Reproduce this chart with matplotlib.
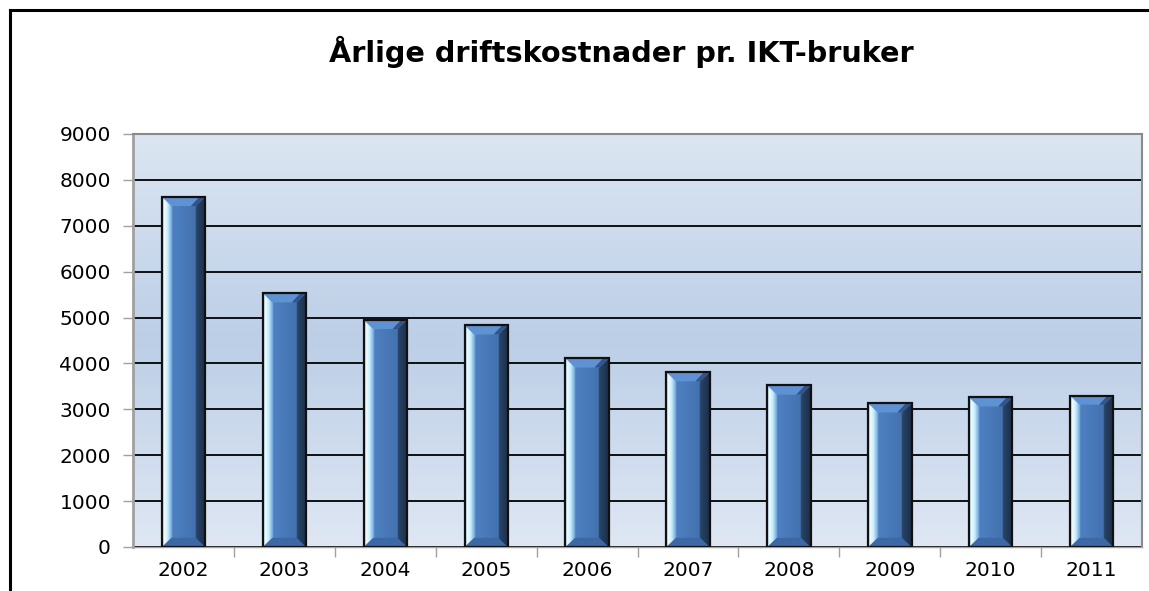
import matplotlib
matplotlib.use('Agg')
import matplotlib.pyplot as plt
import numpy as np
from matplotlib.colors import LinearSegmentedColormap
from matplotlib.patches import Rectangle, Polygon
from matplotlib.lines import Line2D

years = ['2002', '2003', '2004', '2005', '2006', '2007', '2008', '2009', '2010', '2011']
costs = [7630, 5530, 4950, 4830, 4110, 3810, 3520, 3130, 3260, 3300]
title = 'Årlige driftskostnader pr. IKT-bruker'

plt.rcParams['font.family'] = ['DejaVu Sans']

fig = plt.figure(figsize=(11.49, 5.91), dpi=100)
ax = fig.add_axes([0.1158, 0.0745, 0.8782, 0.6988])

# plot-area background: light at top and bottom, a bit darker in the middle
bg = LinearSegmentedColormap.from_list('bg', ['#dfe7f3', '#bccfe7', '#dce6f2'])
ax.imshow(np.linspace(0, 1, 256).reshape(-1, 1), cmap=bg, aspect='auto',
          extent=[0, 1, 0, 1], transform=ax.transAxes, origin='lower', zorder=0)

# horizontal shading of the bars (light left edge, dark right edge)
barcm = LinearSegmentedColormap.from_list('bar', [
    (0.0, '#86bde6'), (0.05, '#f2fdff'), (0.13, '#c6ecfb'), (0.22, '#74a8dc'),
    (0.24, '#4e80c1'), (0.76, '#4472b0'), (0.78, '#294468'), (1.0, '#1c2d47')])
grad = np.linspace(0, 1, 256).reshape(1, -1)

w = 0.43
bw = 0.095
bh = 200
for i, v in enumerate(costs):
    x0, x1 = i - w / 2, i + w / 2
    ax.imshow(grad, cmap=barcm, aspect='auto', extent=[x0, x1, 0, v], zorder=3)
    # top bevel
    ax.add_patch(Polygon([(x0, v), (x1, v), (x1 - bw, v - bh), (x0 + bw, v - bh)],
                         closed=True, fc='#5e92d2', ec='none', zorder=4))
    ax.add_patch(Polygon([(x1 - bw * 1.5, v - bh), (x1 - bw, v - bh), (x1, v), (x1 - bw * 0.6, v)],
                         closed=True, fc='#33548a', ec='none', zorder=4))
    # bottom bevel
    ax.add_patch(Polygon([(x0, 0), (x1, 0), (x1 - bw, bh), (x0 + bw, bh)],
                         closed=True, fc='#3c69a5', ec='none', zorder=4))
    ax.add_patch(Rectangle((x0, 0), w, v, fill=False, ec='#111111', lw=1.6, zorder=5))

ax.set_xlim(-0.5, len(years) - 0.5)
ax.set_ylim(0, 9000)
ax.set_yticks(np.arange(0, 9001, 1000))
ax.set_xticks(range(len(years)))
ax.set_xticklabels(years)
ax.set_xticks(np.arange(0.5, len(years) - 0.5, 1), minor=True)

ax.grid(axis='y', color='black', lw=1.3, zorder=1)
ax.set_axisbelow(True)

ax.tick_params(axis='y', length=7, width=1, color='#a0a0a0', labelsize=14.5, pad=9)
ax.tick_params(axis='x', which='major', length=0, labelsize=14.5, pad=10)
ax.tick_params(axis='x', which='minor', length=7, width=1, color='#a0a0a0')

for side in ['top', 'right']:
    ax.spines[side].set_color('#8a8a8a')
    ax.spines[side].set_linewidth(1.5)
ax.spines['left'].set_color('#a0a0a0')
ax.spines['left'].set_linewidth(2)
ax.spines['bottom'].set_color('#a0a0a0')
ax.spines['bottom'].set_linewidth(1)

fig.text(0.541, 0.912, title, ha='center', va='center', fontsize=20.7, fontweight='bold')

# outer frame of the chart
fig.add_artist(Line2D([10 / 1149, 10 / 1149], [0, 1 - 10 / 591], color='black', lw=2.2,
                      transform=fig.transFigure))
fig.add_artist(Line2D([10 / 1149, 1], [1 - 10 / 591, 1 - 10 / 591], color='black', lw=2.2,
                      transform=fig.transFigure))

fig.savefig('out.png', dpi=100)
